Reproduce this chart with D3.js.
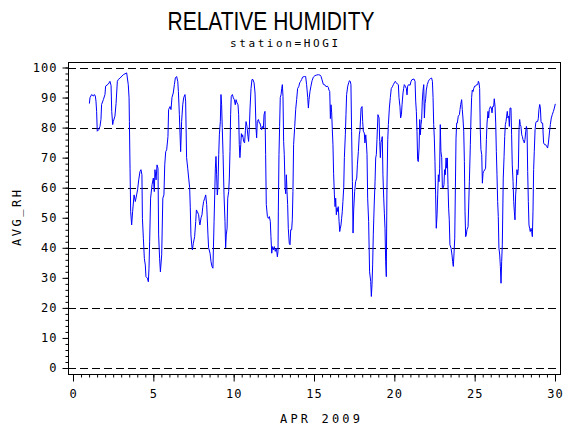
<!DOCTYPE html>
<html lang="en">
<head>
  <meta charset="UTF-8">
  <title>Relative Humidity</title>
  <script src="https://d3js.org/d3.v7.min.js"></script>
  <style>
    body {
      margin: 0;
      background: #fff;
    }
    svg text {
      fill: #000;
    }
    .tick text {
      font-family: "DejaVu Sans Mono", monospace;
      font-size: 12px;
      letter-spacing: 1px;
    }
  </style>
</head>
<body>
  <svg id="chart" width="570" height="430"></svg>

  <script>
    // hourly-ish readings (day of month, AVG_RH)
    const days = [
      1.02,1.06,1.16,1.27,1.33,1.39,1.43,1.47,1.51,1.60,1.68,1.74,1.78,1.89,1.99,2.03,2.20,2.30,2.37,2.41,
      2.47,2.51,2.61,2.68,2.76,2.82,2.93,3.13,3.34,3.44,3.49,3.51,3.55,3.59,3.65,3.71,3.80,3.88,3.96,4.02,
      4.09,4.17,4.23,4.29,4.32,4.38,4.44,4.50,4.54,4.63,4.69,4.73,4.77,4.83,4.92,5.00,5.06,5.10,5.17,5.23,
      5.29,5.33,5.39,5.44,5.52,5.59,5.66,5.71,5.77,5.83,5.91,5.95,6.04,6.10,6.16,6.24,6.31,6.37,6.45,6.52,
      6.56,6.62,6.70,6.76,6.83,6.89,6.97,7.01,7.07,7.14,7.20,7.26,7.30,7.34,7.39,7.43,7.49,7.57,7.64,7.68,
      7.74,7.82,7.86,7.90,7.97,8.03,8.07,8.13,8.20,8.26,8.32,8.40,8.44,8.53,8.59,8.65,8.71,8.78,8.82,8.86,
      8.90,8.94,8.98,9.02,9.07,9.11,9.17,9.21,9.25,9.29,9.34,9.40,9.46,9.50,9.54,9.59,9.63,9.69,9.73,9.77,
      9.81,9.85,9.92,9.98,10.04,10.10,10.15,10.21,10.27,10.31,10.35,10.39,10.44,10.48,10.52,10.56,10.62,10.68,10.73,10.77,
      10.83,10.89,10.93,10.97,11.02,11.08,11.14,11.20,11.27,11.33,11.39,11.43,11.47,11.54,11.60,11.64,11.74,11.80,11.85,11.89,
      11.95,11.99,12.03,12.10,12.16,12.22,12.28,12.32,12.37,12.41,12.47,12.53,12.59,12.66,12.72,12.76,12.78,12.82,12.86,12.90,
      12.95,12.99,13.03,13.07,13.11,13.15,13.20,13.24,13.28,13.32,13.36,13.40,13.46,13.51,13.55,13.61,13.65,13.69,13.73,13.80,
      13.86,13.92,13.98,14.05,14.11,14.17,14.23,14.29,14.40,14.48,14.54,14.61,14.65,14.69,14.75,14.81,14.88,14.96,15.06,15.17,
      15.27,15.37,15.44,15.50,15.58,15.68,15.75,15.83,15.89,15.93,15.98,16.02,16.06,16.10,16.14,16.18,16.22,16.27,16.31,16.35,
      16.39,16.43,16.47,16.51,16.56,16.60,16.64,16.68,16.72,16.76,16.80,16.85,16.89,16.95,16.99,17.03,17.10,17.16,17.20,17.26,
      17.30,17.34,17.39,17.43,17.47,17.53,17.59,17.66,17.70,17.76,17.82,17.86,17.93,17.99,18.03,18.07,18.13,18.17,18.22,18.26,
      18.30,18.34,18.40,18.46,18.53,18.57,18.61,18.65,18.69,18.75,18.80,18.84,18.88,18.92,18.98,19.05,19.09,19.13,19.17,19.21,
      19.25,19.29,19.34,19.38,19.42,19.46,19.50,19.54,19.59,19.63,19.69,19.75,19.81,19.88,19.94,20.00,20.06,20.12,20.19,20.25,
      20.29,20.35,20.39,20.44,20.48,20.54,20.58,20.62,20.68,20.75,20.79,20.83,20.89,20.98,21.04,21.10,21.16,21.22,21.29,21.33,
      21.37,21.41,21.45,21.49,21.54,21.58,21.62,21.66,21.70,21.74,21.78,21.83,21.87,21.91,21.95,21.99,22.05,22.12,22.18,22.24,
      22.32,22.37,22.41,22.45,22.49,22.53,22.57,22.61,22.66,22.70,22.74,22.78,22.82,22.86,22.90,22.95,22.99,23.05,23.09,23.13,
      23.17,23.22,23.26,23.30,23.34,23.38,23.42,23.46,23.53,23.59,23.63,23.67,23.71,23.76,23.80,23.84,23.88,23.92,23.98,24.05,
      24.09,24.13,24.19,24.23,24.27,24.32,24.36,24.40,24.44,24.48,24.52,24.59,24.67,24.73,24.77,24.81,24.85,24.90,24.94,25.00,
      25.06,25.12,25.19,25.23,25.27,25.31,25.35,25.39,25.44,25.48,25.52,25.56,25.62,25.68,25.73,25.77,25.83,25.87,25.91,25.98,
      26.04,26.08,26.12,26.18,26.22,26.27,26.31,26.35,26.39,26.43,26.47,26.51,26.56,26.60,26.64,26.68,26.72,26.78,26.83,26.87,
      26.91,26.95,26.99,27.03,27.07,27.12,27.16,27.20,27.26,27.30,27.34,27.39,27.43,27.47,27.51,27.55,27.59,27.63,27.68,27.72,
      27.76,27.80,27.84,27.88,27.93,27.97,28.01,28.05,28.09,28.13,28.17,28.22,28.26,28.30,28.34,28.38,28.42,28.46,28.51,28.55,
      28.59,28.63,28.67,28.71,28.76,28.80,28.84,28.88,28.92,28.96,29.00,29.05,29.09,29.13,29.17,29.23,29.29,29.36,29.42,29.48,
      29.54,29.59,29.65,29.71,29.77,29.83,29.90,29.96,30.02
    ];

    const avgRh = [
      88,90,91,90.5,91,90.5,88.8,85.4,78.8,79.3,80.4,82.7,87.7,89.3,91,93.8,94.5,95.4,94,85.4,
      81,82,83.8,88,95.4,96,96.5,97.6,98.2,94.3,89.9,82,66.5,52,47.6,52,57.6,55.4,57.6,59.3,
      62.6,65.4,66,64.3,49.8,43.2,36.5,34.3,30.4,29.9,28.7,33.2,42,56.5,61,63.2,58.7,66,62.6,67.6,
      66.5,44.3,36.5,32,37.7,56.5,57.6,67.6,72,72.6,77,86,87,86,90,91.5,94.3,96.5,97,95.4,
      92,84.3,72,82,87.6,90,91,88.8,70,66.5,63.2,60,53.3,44.3,41,39.3,41.5,43.7,48.8,52.6,
      52,51,48.8,47.6,50,51,53.3,55.4,56.5,57.6,54.4,44.3,40,38.2,35.4,33.8,33.2,48.8,57.6,66.5,
      70.4,64.3,57.6,59.8,71,77.6,82,91,87.6,80,71,57.6,48.8,40,44.3,46.5,56.5,58.7,63.2,72,
      84.3,90.4,91,89.9,89.3,87.6,89.3,88.2,87.6,84.3,74.3,70,74.3,78,76.9,77.6,75.4,74.9,79,82,
      80.4,77,75.4,79.3,86.5,93,96,96,94.9,91.5,80,76.6,82,82.7,81.5,81.5,79.3,80.4,79.9,84.3,
      85.4,71,54.4,50.4,49.8,50.4,48.8,43.7,38.2,40.4,39.3,40.4,38.8,39.9,37,38.8,52,71,80.4,90,
      91,93,94.3,90.4,75.4,71,60,58,64.3,58.7,54.4,46.5,41.5,41,46,46,49.3,58.7,74.3,80.4,
      86,89.3,93,93.6,94.9,95.4,96,96.8,97,97,94.3,90,86.5,89.3,92,93.8,95.6,96.8,97.3,97.5,
      97.6,97.5,97,95.9,94.4,94.2,93.6,93.8,93.4,92.5,92,83,87.6,84.9,79.3,74.3,64.8,57.6,53.7,56.5,
      51,53.3,52.1,53.7,48.8,45.4,46.5,47.6,49.8,52,55.4,60,70,77.6,84.3,91,93.8,94.9,95.6,95.4,
      94.3,78.8,62,44.9,52.6,58.7,62,63.2,67.6,72,77.6,79,86.5,87,82,78.8,78.2,74.9,77.6,74.9,
      71,56.5,48.8,32,28.8,23.8,27.7,34.3,44.3,54.9,62,69.9,71,76,84.3,83.2,75.4,70,75,76,
      77,64.3,56.5,51.5,46.5,35.4,30.4,60,76,81,86.5,90,93,93.6,94.3,94.9,95.4,94.9,94.5,94.3,
      90,87,83.2,84.3,87.6,91.5,93,94.3,93.8,93,90.9,93.8,94.3,94.1,95.4,96,96,96.2,95.4,88.8,
      85.4,78.8,69.3,68.7,73.2,82.7,77.6,81,82.7,88.8,92,94.3,83.2,88,89.6,92.5,94.3,95.4,96,96.3,
      96.5,95.4,90,81,76.5,68.7,57.6,46.5,51,57.6,64.3,62,66.5,81,72,70,60,60,61,66,
      64.3,69.9,66.5,69.9,61,53.2,49.3,41,39.9,37.6,35.4,33.8,37.6,43.2,60,76.5,81.5,81.5,83.8,84.3,
      86,87.7,89.3,86,83.2,78.8,68.7,52,43.7,44.3,46,47,62,74.3,83.2,90,92.5,92,93,93.8,
      93.8,94.3,94.3,95.4,94.9,93,79.3,72.7,71,61.5,64.8,65.4,65.9,66.5,76,81.5,85.4,83.2,86,87,
      86.5,84.9,87,87,89.6,87,81.5,72,64.3,55.4,50.4,39.9,37.6,33.8,28.2,35.4,41,63.2,70.4,77,
      81,82,83.8,85.4,83.2,83.8,80.4,86.5,86.5,77.6,67.6,62,55.4,52,49.3,57.6,60.4,66,64.3,66.5,
      79.3,82.7,81,80.4,77.6,77,76,75.4,74.9,76,78.2,80.4,79.3,65.4,55.4,47.6,46.5,45.4,46.5,45.4,
      43.7,52,66,72,79.3,81.5,82,82.2,82,83,86,87.7,86.5,82,81.5,81.5,74.9,74.3,74.3,73.8,
      73.2,74.9,78.2,81,83.2,84.3,85.4,86.5,87.9
    ];

    const xTicks = [0, 5, 10, 15, 20, 25, 30];
    const yTicks = [0, 10, 20, 30, 40, 50, 60, 70, 80, 90, 100];
    const gridLevels = [0, 20, 40, 60, 80, 100];

    const data = days.map((d, i) => ({ day: d, rh: avgRh[i] }));

    const svg = d3.select("#chart");

    // frame of the plot area
    const frame = { left: 68, right: 560, top: 62, bottom: 374 };

    const x = d3.scaleLinear().domain([0, 30]).range([73, 555]);
    const y = d3.scaleLinear().domain([0, 100]).range([368, 67.5]);

    // titles
    svg.append("text")
      .attr("x", 271)
      .attr("y", 30)
      .attr("text-anchor", "middle")
      .attr("textLength", 207)
      .attr("lengthAdjust", "spacingAndGlyphs")
      .style("font-family", "'Liberation Sans', Arial, sans-serif")
      .style("font-size", "25px")
      .text("RELATIVE HUMIDITY");

    svg.append("text")
      .attr("x", 284)
      .attr("y", 47)
      .attr("text-anchor", "middle")
      .attr("textLength", 108)
      .attr("lengthAdjust", "spacing")
      .style("font-family", "'DejaVu Sans Mono', monospace")
      .style("font-size", "11px")
      .text("station=HOGI");

    // dashed reference lines
    svg.append("g")
      .selectAll("line")
      .data(gridLevels)
      .enter()
      .append("line")
      .attr("x1", frame.left)
      .attr("x2", frame.right)
      .attr("y1", d => Math.round(y(d)) + 0.5)
      .attr("y2", d => Math.round(y(d)) + 0.5)
      .attr("stroke", "#000")
      .attr("stroke-width", 1)
      .attr("stroke-dasharray", "8,4");

    svg.append("rect")
      .attr("x", frame.left + 0.5)
      .attr("y", frame.top + 0.5)
      .attr("width", frame.right - frame.left)
      .attr("height", frame.bottom - frame.top)
      .attr("fill", "none")
      .attr("stroke", "#000")
      .attr("stroke-width", 1);

    // y axis: labelled every 10, minor every 2
    const yMinor = d3.range(0, 101, 2);
    const yAxis = svg.append("g")
      .attr("transform", `translate(${frame.left + 0.5},0)`);
    yAxis.call(d3.axisLeft(y).tickValues(yMinor).tickSize(3).tickFormat(""))
      .call(g => g.select(".domain").remove());
    yAxis.append("g")
      .call(d3.axisLeft(y).tickValues(yTicks).tickSize(6).tickPadding(5).tickFormat(d3.format("d")))
      .call(g => g.select(".domain").remove());

    // x axis: labelled every 5 days, minor every half day
    const xMinor = d3.range(0, 30.01, 0.5);
    const xAxis = svg.append("g")
      .attr("transform", `translate(0,${frame.bottom + 0.5})`);
    xAxis.call(d3.axisBottom(x).tickValues(xMinor).tickSize(3).tickFormat(""))
      .call(g => g.select(".domain").remove());
    xAxis.append("g")
      .call(d3.axisBottom(x).tickValues(xTicks).tickSize(7).tickPadding(8).tickFormat(d3.format("d")))
      .call(g => g.select(".domain").remove());

    svg.selectAll(".tick line").attr("stroke", "#000");

    // axis labels
    svg.append("text")
      .attr("transform", "translate(21,218) rotate(-90)")
      .attr("text-anchor", "middle")
      .attr("textLength", 56)
      .attr("lengthAdjust", "spacing")
      .style("font-family", "'DejaVu Sans Mono', monospace")
      .style("font-size", "12px")
      .text("AVG_RH");

    svg.append("text")
      .attr("x", 320)
      .attr("y", 423)
      .attr("text-anchor", "middle")
      .attr("textLength", 80)
      .attr("lengthAdjust", "spacing")
      .style("font-family", "'DejaVu Sans Mono', monospace")
      .style("font-size", "12px")
      .text("APR 2009");

    // the RH trace
    const line = d3.line()
      .x(d => x(d.day))
      .y(d => y(d.rh));

    svg.append("path")
      .datum(data)
      .attr("d", line)
      .attr("fill", "none")
      .attr("stroke", "#0000ff")
      .attr("stroke-width", 1);
  </script>
</body>
</html>
